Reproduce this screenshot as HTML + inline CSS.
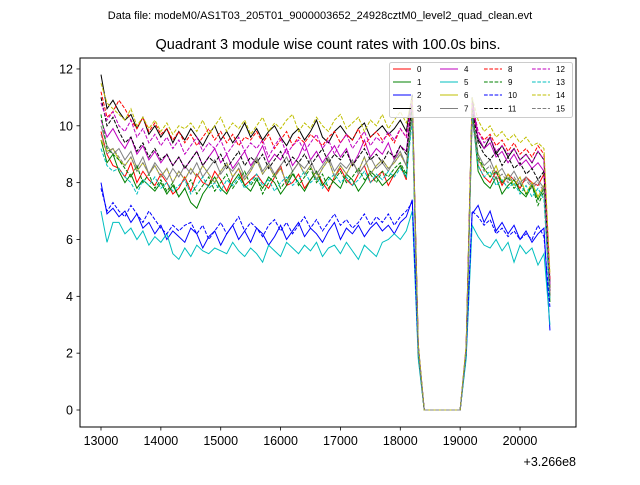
<!DOCTYPE html>
<html><head><meta charset="utf-8"><style>
body{margin:0;background:#fff;width:640px;height:480px;overflow:hidden}
svg{font-family:"Liberation Sans","DejaVu Sans",sans-serif}
</style></head><body>
<svg id="chart" width="640" height="480">
<rect width="640" height="480" fill="#fff"/>
<text x="320" y="19" font-size="11" text-anchor="middle">Data file: modeM0/AS1T03_205T01_9000003652_24928cztM0_level2_quad_clean.evt</text>
<text x="328" y="49" font-size="14.5" text-anchor="middle">Quadrant 3 module wise count rates with 100.0s bins.</text>
<g id="grid"></g>
<g id="series"></g>
<rect x="80" y="58" width="496" height="369" fill="none" stroke="#000" stroke-width="1"/>
<text x="576" y="466" font-size="12.5" text-anchor="end">+3.266e8</text>
<g id="legend"></g>
</svg>
<script>
const xTicks=[13000,14000,15000,16000,17000,18000,19000,20000];
const yTicks=[0,2,4,6,8,10,12];
const t0=13000, step=100;
const colors=['#ff0000','#008000','#0000ff','#000000','#bf00bf','#00bfbf','#bfbf00','#808080'];
const s0=[9.8,9.0,8.6,8.5,8.2,8.7,8.0,8.4,8.1,7.9,8.3,8.0,7.6,7.8,8.2,7.7,8.3,8.0,7.9,8.4,8.1,7.7,8.2,8.5,7.9,8.1,8.3,8.0,7.8,8.2,8.6,7.9,8.0,8.3,7.8,8.1,8.4,8.0,7.7,8.2,8.5,8.1,7.9,8.3,8.6,8.0,8.2,8.4,7.9,8.3,8.6,8.1,10.8,2.0,0,0,0,0,0,0,0,2.1,10.8,8.6,8.2,8.0,8.4,7.9,8.3,8.1,7.8,8.2,8.0,7.9,8.3,4.0];
const s1=[9.5,8.7,9.0,8.4,8.0,8.3,7.8,8.1,7.9,7.7,8.0,7.6,7.9,7.5,7.8,7.3,7.1,7.6,7.9,8.2,7.8,7.6,8.0,8.3,7.9,7.7,8.1,7.8,8.2,8.0,7.6,7.9,8.3,8.0,7.7,8.1,8.4,7.9,8.2,8.0,7.8,8.3,8.1,7.7,8.0,8.4,8.2,7.9,8.1,8.3,8.6,8.2,10.5,1.9,0,0,0,0,0,0,0,2.0,10.6,8.4,8.0,7.8,8.2,7.6,7.9,8.1,7.7,7.5,7.9,7.4,7.8,3.8];
const s2=[8.0,6.9,7.1,6.8,7.0,6.6,6.9,6.4,6.6,6.2,6.5,6.0,6.3,6.1,5.9,6.4,6.2,5.7,6.1,6.3,5.8,6.2,6.5,6.0,6.3,5.9,6.4,6.2,5.8,6.1,6.5,6.0,6.3,6.6,6.1,6.4,6.2,5.9,6.3,6.6,6.0,6.4,6.2,6.5,6.1,6.4,6.6,6.3,6.5,6.2,6.6,6.8,7.4,2.1,0,0,0,0,0,0,0,1.9,6.9,7.2,6.6,7.0,6.3,6.6,6.2,6.5,6.0,6.3,5.9,6.2,6.4,2.8];
const s3=[11.8,10.6,10.9,10.5,10.2,10.4,9.9,10.3,9.7,10.0,9.6,9.9,9.4,9.8,9.5,9.9,9.6,9.3,9.7,10.0,9.5,9.8,9.4,9.7,10.1,9.6,9.9,9.5,9.8,10.0,9.6,9.3,9.7,9.9,9.5,9.8,10.2,9.6,9.4,9.8,10.0,9.7,9.5,9.9,10.1,9.6,9.8,10.0,9.7,9.9,10.2,9.8,11.1,2.3,0,0,0,0,0,0,0,2.2,11.0,9.5,9.2,9.6,9.0,9.3,8.9,9.2,8.8,9.0,8.7,9.1,8.8,4.5];
const s4=[10.2,9.6,9.9,9.5,9.2,9.6,9.0,9.3,8.8,9.1,8.7,9.0,8.6,8.9,8.5,8.8,9.1,8.6,8.9,9.2,8.7,9.0,8.5,8.8,9.1,8.6,8.9,9.3,8.7,9.0,8.8,9.2,8.6,8.9,9.4,8.8,9.1,8.7,9.0,9.3,8.9,9.2,8.6,9.0,9.5,8.9,9.2,9.0,9.4,8.8,9.3,9.1,10.9,2.2,0,0,0,0,0,0,0,2.1,10.7,9.6,9.2,9.4,8.9,9.1,8.7,9.0,8.6,8.8,8.5,8.7,8.4,4.2];
const s5=[7.0,5.9,6.6,6.6,6.2,6.4,6.0,6.3,5.8,6.1,5.9,6.2,5.5,5.3,5.7,5.4,5.8,5.6,5.5,5.7,5.6,5.5,5.9,5.6,5.4,5.7,5.5,5.2,5.8,5.6,5.4,5.9,5.7,5.5,5.8,5.6,5.9,5.4,5.7,5.8,5.5,5.9,5.6,5.3,5.8,5.6,5.4,5.9,6.0,6.2,6.0,6.3,7.0,1.8,0,0,0,0,0,0,0,1.8,6.5,6.1,5.8,5.7,6.0,5.6,5.9,5.2,5.8,5.5,5.7,5.1,5.5,3.0];
const s6=[9.5,9.1,9.2,8.8,8.6,8.9,8.4,8.7,8.3,8.6,8.2,8.5,8.0,8.4,8.1,8.5,8.2,8.6,8.3,8.0,8.4,8.7,8.2,8.5,8.1,8.4,8.8,8.3,8.6,8.2,8.5,8.0,8.4,8.7,8.3,8.6,8.1,8.5,8.8,8.2,8.6,8.3,8.7,8.4,8.9,8.3,8.6,8.8,8.5,8.7,9.0,8.6,10.6,2.0,0,0,0,0,0,0,0,2.1,10.4,8.8,8.5,8.2,8.6,8.0,8.3,7.9,8.2,7.6,8.0,7.5,7.9,4.3];
const s7=[10.0,9.3,9.0,9.2,8.8,9.1,8.5,8.9,8.3,8.7,8.4,8.1,8.5,8.2,8.6,8.3,8.7,8.2,8.5,8.8,8.3,8.6,8.4,8.7,8.2,8.5,8.9,8.4,8.7,8.3,8.6,8.9,8.4,8.7,8.5,8.8,8.3,8.6,8.9,8.4,8.7,8.5,8.8,8.3,8.6,8.9,8.5,8.7,8.4,8.8,9.1,8.6,10.7,2.1,0,0,0,0,0,0,0,2.0,10.5,9.0,8.6,8.8,8.3,8.5,8.1,8.4,8.0,8.2,7.9,8.1,7.8,4.4];
const s8=[11.2,10.3,10.5,10.9,10.6,10.2,9.9,10.3,9.8,10.1,9.7,9.9,9.5,9.8,9.4,9.7,9.3,9.6,9.9,9.5,9.8,9.4,9.7,9.3,9.6,9.5,9.8,9.4,9.7,9.2,9.5,9.8,9.3,9.6,9.4,9.7,9.5,9.3,9.6,9.8,9.4,9.7,9.5,9.9,9.3,9.6,9.8,9.5,9.7,9.4,9.9,9.6,10.9,2.2,0,0,0,0,0,0,0,2.2,10.8,9.8,9.5,9.7,9.3,9.5,9.1,9.4,9.0,9.2,8.9,9.3,9.0,4.6];
const s9=[10.4,9.2,9.0,8.8,8.5,8.2,8.6,8.0,8.3,7.8,8.1,7.7,8.0,7.5,7.8,8.1,7.6,7.9,8.2,7.7,8.0,8.3,7.8,8.1,8.4,7.9,8.2,7.6,8.0,8.3,7.8,8.1,8.4,7.9,8.2,8.5,8.0,8.3,7.8,8.1,8.4,8.0,8.2,8.5,8.1,8.3,8.0,8.4,8.2,8.5,8.7,8.3,10.6,2.0,0,0,0,0,0,0,0,2.0,10.4,8.9,8.5,8.2,8.4,8.0,8.2,7.8,8.0,7.6,7.9,7.2,7.7,4.0];
const s10=[7.8,7.0,7.3,7.0,6.8,7.2,6.9,6.6,7.0,6.7,6.4,6.2,6.5,6.3,6.5,6.6,6.2,6.5,6.0,6.3,6.6,6.2,6.5,6.8,6.3,6.6,6.4,6.1,6.5,6.7,6.3,6.6,6.2,6.5,6.8,6.4,6.7,6.3,6.6,6.9,6.5,6.7,6.4,6.6,6.9,6.5,6.8,6.6,6.9,6.5,6.8,7.0,7.3,2.0,0,0,0,0,0,0,0,2.0,7.0,6.8,6.5,6.7,6.2,6.4,6.1,6.3,6.0,6.2,6.0,6.5,6.1,3.6];
const s11=[11.0,10.0,10.3,9.8,9.4,9.6,9.1,9.4,8.9,9.2,8.8,9.0,8.6,8.9,8.5,8.8,9.1,8.6,8.9,8.7,9.0,8.5,8.8,9.1,8.6,8.9,8.7,9.0,8.5,8.8,9.1,8.6,8.9,8.7,9.0,8.6,8.9,9.2,8.7,9.0,8.8,9.1,8.6,8.9,9.2,8.8,9.0,8.7,9.1,8.9,9.3,9.0,10.8,2.1,0,0,0,0,0,0,0,2.1,10.6,9.4,9.0,8.8,9.1,8.6,8.9,8.5,8.7,8.3,8.5,8.1,8.4,4.2];
const s12=[10.8,10.2,10.5,10.0,9.8,10.2,9.6,9.9,9.4,9.7,9.3,9.6,9.2,9.5,9.0,9.3,9.6,9.1,9.4,9.2,9.5,9.0,9.3,9.6,9.1,9.4,9.2,9.5,8.9,9.3,9.6,9.0,9.3,9.5,9.1,9.4,9.7,9.2,9.5,9.0,9.4,9.7,9.2,9.5,9.8,9.3,9.6,9.4,9.8,9.5,9.9,9.6,10.9,2.2,0,0,0,0,0,0,0,2.2,10.8,9.8,9.4,9.6,9.1,9.3,9.0,9.2,8.8,9.0,8.7,9.1,8.8,4.4];
const s13=[9.2,8.6,8.4,8.5,8.2,8.0,7.6,8.1,7.9,8.2,7.8,8.0,7.7,7.9,8.1,7.6,7.9,8.2,7.8,8.0,7.7,8.1,7.9,8.2,7.8,8.0,8.3,7.9,8.1,7.7,8.0,8.2,7.9,8.1,8.4,8.0,8.2,7.8,8.1,8.3,8.0,8.2,7.9,8.1,8.4,8.0,8.3,8.1,8.4,8.2,8.5,8.2,10.2,2.0,0,0,0,0,0,0,0,2.0,10.3,8.6,8.2,8.4,7.9,8.1,7.8,8.0,7.6,7.9,7.5,7.8,7.4,3.9];
const s14=[11.5,10.8,10.6,10.4,10.2,10.6,10.0,10.3,9.9,10.2,9.8,10.1,9.7,10.0,9.9,10.1,9.8,10.2,9.7,10.0,10.3,9.8,10.1,9.9,10.2,9.7,10.0,10.3,9.8,10.1,9.9,10.2,10.4,9.8,10.1,9.9,10.3,10.0,9.8,10.2,10.4,9.9,10.1,10.3,9.8,10.2,10.0,10.4,9.9,10.2,10.5,10.1,11.0,2.3,0,0,0,0,0,0,0,2.3,11.0,10.2,9.8,10.0,9.6,9.8,9.5,9.7,9.4,9.6,9.3,9.4,9.2,4.8];
const s15=[9.7,9.0,9.2,8.9,8.6,8.9,8.4,8.7,8.3,8.6,8.2,8.5,8.0,8.4,8.1,8.5,8.2,8.6,8.3,8.0,8.4,8.7,8.2,8.5,8.1,8.4,8.8,8.3,8.6,8.2,8.5,8.0,8.4,8.7,8.3,8.6,8.1,8.5,8.8,8.2,8.6,8.3,8.7,8.4,8.9,8.3,8.6,8.8,8.5,8.7,9.0,8.6,10.4,2.1,0,0,0,0,0,0,0,2.1,10.2,8.8,8.4,8.6,8.1,8.3,8.0,8.2,7.9,8.1,7.8,8.0,7.7,4.1];
const seriesList=[s0,s1,s2,s3,s4,s5,s6,s7,s8,s9,s10,s11,s12,s13,s14,s15];

const NS='http://www.w3.org/2000/svg';
const X=v=>101+(v-13000)*0.05986;
const Y=v=>410-v*28.42;
function mk(tag,attrs,parent){const e=document.createElementNS(NS,tag);for(const k in attrs)e.setAttribute(k,attrs[k]);parent.appendChild(e);return e;}
const grid=document.getElementById('grid');
xTicks.forEach(t=>{
  const l=mk('line',{x1:X(t),x2:X(t),y1:427,y2:430.5,stroke:'#000','stroke-width':0.8},grid);
  
  
  const tx=mk('text',{x:X(t),y:445,'font-size':12.5,'text-anchor':'middle'},grid);
  tx.textContent=t;
  
  
});
yTicks.forEach(t=>{
  const l=mk('line',{x1:76.5,x2:80,y1:Y(t),y2:Y(t),stroke:'#000','stroke-width':0.8},grid);
  
  
  const tx=mk('text',{x:73,y:Y(t)+4.5,'font-size':12.5,'text-anchor':'end'},grid);
  tx.textContent=t;
  
  
});
const sg=document.getElementById('series');
seriesList.forEach((s,i)=>{
  const pts=s.map((v,j)=>X(t0+j*step).toFixed(2)+','+Y(v).toFixed(2)).join(' ');
  const p=mk('polyline',{points:pts,fill:'none',stroke:colors[i%8],'stroke-width':1},sg);
  if(i>=8)p.setAttribute('stroke-dasharray','3.7,1.6');
  
  
});
const lg=document.getElementById('legend');
const box=mk('rect',{x:389.5,y:62.5,width:183,height:55,rx:2,fill:'#fff','fill-opacity':0.8,stroke:'#ccc','stroke-width':1},lg);


const colX=[393,440,484,532], rowY=[69,82,95,108.5];
for(let i=0;i<16;i++){
  const c=Math.floor(i/4), r=i%4;
  const g=mk('g',{},lg);
  
  
  const l=mk('line',{x1:colX[c],x2:colX[c]+18,y1:rowY[r],y2:rowY[r],stroke:colors[i%8],'stroke-width':1},g);
  if(i>=8)l.setAttribute('stroke-dasharray','3.7,1.6');
  const t=mk('text',{x:colX[c]+24,y:rowY[r]+3,'font-size':8},g);
  t.textContent=i;
}
</script>
</body></html>
